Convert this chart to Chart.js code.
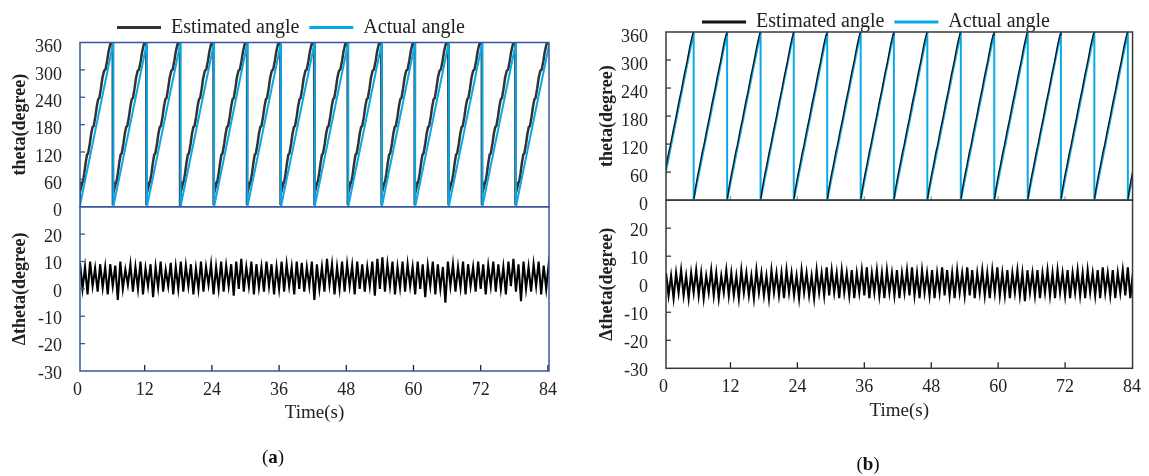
<!DOCTYPE html>
<html lang="en">
<head>
<meta charset="UTF-8" />
<title>Estimated vs actual angle</title>
<script src="https://cdn.jsdelivr.net/npm/chart.js"></script>
<style>
  body { margin: 0; background: #fff; }
  #wrap { position: relative; width: 1149px; height: 476px; font-family: 'Liberation Serif', serif; color: #111; }
  .panel { position: absolute; top: 0; height: 476px; }
  #pa { left: 0; width: 575px; }
  #pb { left: 575px; width: 574px; }
  .cap { position: absolute; font-size: 19px; transform: translate(-50%, -50%); }
</style>
</head>
<body>
<div id="wrap">
  <div class="panel" id="pa"><canvas id="chartA"></canvas></div>
  <div class="panel" id="pb"><canvas id="chartB"></canvas></div>
  <div class="cap" style="left:273px;top:457px">(<b>a</b>)</div>
  <div class="cap" style="left:868px;top:464px">(<b>b</b>)</div>
</div>
<script>
const timeTicks = [0, 12, 24, 36, 48, 60, 72, 84];

// moments where the actual angle wraps from 360 back to 0 (s)
const resetsA = [0.4, 6.4, 12.4, 18.4, 24.4, 30.35, 36.35, 42.35, 48.35, 54.35, 60.3, 66.3, 72.3, 78.3, 84.3];
const resetsB = [-0.6, 5.4, 11.4, 17.4, 23.35, 29.35, 35.35, 41.3, 47.3, 53.3, 59.3, 65.3, 71.25, 77.25, 83.25, 89.25];

// estimated angle over one revolution, time after the wrap (s) and angle (deg)
const estPhaseA = [-0.08, 0.02, 0.2, 0.4, 0.6, 0.8, 1.05, 1.3, 1.5, 1.8, 2.05, 2.3, 2.5, 2.8, 3.05, 3.3, 3.5, 3.8, 4.05, 4.35, 4.6, 4.9, 5.15, 5.45, 5.7, 5.9];
const estAngleA = [4, 55, 40, 50, 57, 72, 95, 114, 117, 138, 160, 175, 177, 198, 220, 236, 238, 260, 282, 298, 301, 320, 340, 356, 360, 360];
const estPhaseB = [0.05, 0.3, 0.55, 0.8, 1.05, 1.3, 1.55, 1.8, 2.05, 2.3, 2.55, 2.8, 3.05, 3.3, 3.55, 3.8, 4.05, 4.3, 4.55, 4.8, 5.05, 5.3, 5.55, 5.8, 5.95];
const estAngleB = [3, 24, 42, 58, 72, 88, 104, 116, 132, 148, 162, 176, 192, 208, 222, 236, 252, 268, 282, 296, 312, 328, 342, 354, 360];

// angle error, sampled every errStep seconds (peak / trough pairs)
const errStart = 0.45;
const errStep = 0.45;
const errA = [
  9.5, 0, 8, -2, 10, 1, 7.5, -1, 9, 0.5, 8, -2, 9, 1, 8.5, -4, 10, 0, 7, 1.5,
  9, -1, 8, 0, 10, -2, 7.5, 1, 9, -3, 8, 0.5, 10, -1, 7, 1, 9.5, -2, 8, 0,
  10, -1, 8.5, 1, 9, -2, 7.5, 0, 10, -1, 8, 1.5, 9, -2, 8, 0, 10, -1, 8.5, 1,
  9, -2.5, 10, 0, 11, -1, 8, 1, 10, -2, 9, 0.5, 8, -1, 10, 1, 9, -2, 8, 0,
  10, -1, 9, 1, 8, -2, 10, 0, 9.5, -1, 8, 1, 10, -4, 9, 0, 8, -1, 11, 1.5,
  9, -2, 8, 0, 10, -1, 9, 1, 8.5, -2, 10, 0, 9, -1, 8, 1, 10, -2.5, 11, 0,
  11.5, -1, 9, 1, 10, -2, 8, 0.5, 10, -1, 9, 1, 8, -2, 10, 0, 9, -3, 8.5, 1,
  10, -2, 9, 0, 8, -5, 10, 1, 9, -1, 8, 0.5, 10, -2, 9, 1, 8, -1, 10, 0,
  9, -2, 8.5, 1, 10, -1, 9, 0, 8, -2, 10, 1, 11, -1, 9, -4.5, 10, 0, 8, -1,
  9, 1, 10, -2, 8.5, 0, 9, 1
];
const errB = [
  4, -4, 3, -5, 4, -3, 5, -4, 3, -5, 4, -3, 5, -4, 4, -5, 3, -3, 5, -4,
  4, -5, 3, -3, 5, -4, 4, -4, 3, -5, 5, -3, 4, -4, 3, -5, 5, -3, 4, -4,
  3, -5, 5, -3, 4, -4, 4, -5, 5, -3, 4, -4, 3, -5, 5, -3, 4, -4, 3, -5,
  5, -3, 4, -4, 6, -4, 5, -3, 4, -5, 5, -3, 4, -4, 5, -5, 4, -3, 5, -4,
  6, -5, 4, -3, 5, -4, 4, -5, 5, -3, 4, -4, 5, -5, 4, -3, 5, -4, 6, -4,
  4, -5, 5, -3, 4, -4, 5, -5, 4, -3, 6, -4, 5, -4, 4, -5, 5, -3, 4, -4,
  6, -4, 5, -5, 4, -3, 5, -4, 4, -5, 5, -3, 6, -4, 4, -4, 5, -5, 4, -3,
  5, -4, 4, -6, 5, -3, 4, -4, 5, -5, 4, -3, 5, -4, 4, -5, 5, -3, 4, -4,
  5, -5, 4, -3, 5, -4, 4, -5, 5, -3, 4, -4, 5, -5, 6, -3, 4, -4, 5, -5,
  4, -3, 5, -4, 6, -5, 4, -3
];

const BLUE = '#0aa8e6';
Chart.defaults.font.family = "'Liberation Serif', 'Times New Roman', serif";
Chart.defaults.color = '#222';

function sawtooth(resets) {
  const pts = [];
  for (let i = 0; i < resets.length - 1; i++) {
    pts.push({ x: resets[i], y: 0 }, { x: resets[i + 1], y: 360 });
  }
  return pts;
}

// breakAtWrap leaves the drop at each wrap undrawn (the blue line shows it)
function estimated(resets, phase, angle, breakAtWrap) {
  const pts = [];
  for (let i = 0; i < resets.length - 1; i++) {
    phase.forEach((p, j) => pts.push({ x: resets[i] + p, y: angle[j] }));
    if (breakAtWrap) pts.push({ x: resets[i + 1], y: null });
  }
  return pts;
}

function sampled(vals) {
  return vals.map((v, i) => ({ x: errStart + i * errStep, y: v }));
}

// frames round both stacked plots and inward tick marks
const frameTicks = {
  id: 'frameTicks',
  afterDatasetsDraw(chart, args, o) {
    const { ctx, chartArea: a, scales } = chart;
    const line = (x1, y1, x2, y2) => { ctx.beginPath(); ctx.moveTo(x1, y1); ctx.lineTo(x2, y2); ctx.stroke(); };
    ctx.save();
    ctx.lineWidth = 1.3;
    ctx.strokeStyle = o.frameColor;
    ['y', 'y2'].forEach(id => {
      const s = scales[id];
      s.ticks.forEach(t => {
        const py = s.getPixelForValue(t.value);
        if (py > s.top + 1 && py < s.bottom - 1) line(a.left, py, a.left + 5, py);
      });
    });
    ctx.strokeStyle = o.xTickColor;
    scales.x.ticks.forEach(t => {
      const px = scales.x.getPixelForValue(t.value);
      if (px > a.left + 1 && px < a.right - 1) {
        line(px, a.bottom, px, a.bottom - 6);
        if (o.midTicks) {
          ctx.strokeStyle = '#999';
          line(px, scales.y.bottom, px, scales.y.bottom - 4);
          ctx.strokeStyle = o.xTickColor;
        }
      }
    });
    ctx.lineWidth = 1.5;
    ctx.strokeStyle = o.frameColor;
    ['y', 'y2'].forEach(id => {
      const s = scales[id];
      ctx.strokeRect(a.left, s.top, a.right - a.left, s.bottom - s.top);
    });
    ctx.restore();
  }
};

function makeChart(canvasId, cfg) {
  const tickFont = { size: 18 };
  const titleFont = { size: 18, weight: 'bold' };
  return new Chart(document.getElementById(canvasId), {
    type: 'line',
    data: {
      datasets: [
        { label: 'Estimated angle', data: cfg.est, borderColor: cfg.estColor, borderWidth: cfg.estWidth, yAxisID: 'y', order: cfg.estOrder, spanGaps: false },
        { label: 'Actual angle', data: cfg.actual, borderColor: BLUE, borderWidth: 2, yAxisID: 'y', order: 2 },
        { label: 'Error', data: cfg.err, borderColor: '#000', borderWidth: 2.1, yAxisID: 'y2', order: 4 }
      ]
    },
    options: {
      responsive: true,
      maintainAspectRatio: false,
      animation: false,
      elements: { point: { radius: 0 }, line: { tension: 0 } },
      layout: { autoPadding: false, padding: { top: cfg.padTop, right: cfg.padRight, bottom: cfg.padBottom, left: cfg.padLeft } },
      plugins: {
        tooltip: { enabled: false },
        legend: {
          position: 'top',
          maxHeight: cfg.legendHeight,
          labels: {
            usePointStyle: true,
            pointStyle: 'line',
            pointStyleWidth: 44,
            padding: 10,
            font: { size: 20 },
            color: '#222',
            sort: (a, b) => a.datasetIndex - b.datasetIndex,
            generateLabels: c => Chart.defaults.plugins.legend.labels.generateLabels(c)
              .filter(l => l.datasetIndex < 2)
              .map(l => Object.assign(l, { lineWidth: 3 }))
          }
        },
        frameTicks: { frameColor: cfg.frameColor, xTickColor: cfg.xTickColor, midTicks: cfg.midTicks }
      },
      scales: {
        x: {
          type: 'linear',
          min: cfg.xMin,
          max: cfg.xMax,
          afterBuildTicks: s => { s.ticks = timeTicks.map(v => ({ value: v })); },
          afterFit: s => { s.height = cfg.xHeight; },
          grid: { display: false, drawTicks: false },
          border: { display: false },
          ticks: { font: tickFont, padding: 8, autoSkip: false, maxRotation: 0, callback: v => v },
          title: { display: true, text: 'Time(s)', font: { size: 19 }, padding: { top: 0, bottom: 0 } }
        },
        // bottom plot first: left-hand stacks are laid out in reverse order
        y2: {
          type: 'linear',
          position: 'left',
          stack: 'panel',
          stackWeight: 1,
          min: -30,
          max: 30,
          afterFit: s => { s.width = cfg.yWidth; },
          grid: { display: false, drawTicks: false },
          border: { display: false },
          ticks: { stepSize: 10, font: tickFont, padding: 18, labelOffset: 3, autoSkip: false, callback: v => (v === 30 ? '' : v) },
          title: { display: true, text: 'Δtheta(degree)', font: titleFont, padding: { top: cfg.titlePad, bottom: 0 } }
        },
        y: {
          type: 'linear',
          position: 'left',
          stack: 'panel',
          stackWeight: 1,
          min: 0,
          max: 360,
          afterFit: s => { s.width = cfg.yWidth; },
          grid: { display: false, drawTicks: false },
          border: { display: false },
          ticks: { stepSize: 60, font: tickFont, padding: 18, labelOffset: 5, autoSkip: false },
          title: { display: true, text: 'theta(degree)', font: titleFont, padding: { top: cfg.titlePad, bottom: 0 } }
        }
      }
    },
    plugins: [frameTicks]
  });
}

makeChart('chartA', {
  est: estimated(resetsA, estPhaseA, estAngleA, false),
  actual: sawtooth(resetsA),
  err: sampled(errA),
  estColor: '#333',
  estWidth: 2.5,
  estOrder: 3,
  frameColor: '#34589a',
  xTickColor: '#222',
  midTicks: false,
  xMin: 0.45, xMax: 84.2,
  padLeft: 33, yWidth: 47, titlePad: 9.4 - 33,
  xHeight: 53.1,
  legendHeight: 35,
  padTop: 7.5, padRight: 26, padBottom: 476 - 371 - 53.1
});

makeChart('chartB', {
  est: estimated(resetsB, estPhaseB, estAngleB, true),
  actual: sawtooth(resetsB),
  err: sampled(errB),
  estColor: '#111',
  estWidth: 1.3,
  estOrder: 1,
  frameColor: '#3a3a3a',
  xTickColor: '#222',
  midTicks: true,
  xMin: 0.44, xMax: 84.1,
  padLeft: 30, yWidth: 61, titlePad: 21.4 - 30,
  xHeight: 54.1,
  legendHeight: 30,
  padTop: 2, padRight: 2, padBottom: 476 - 368.3 - 54.1
});
</script>
</body>
</html>
